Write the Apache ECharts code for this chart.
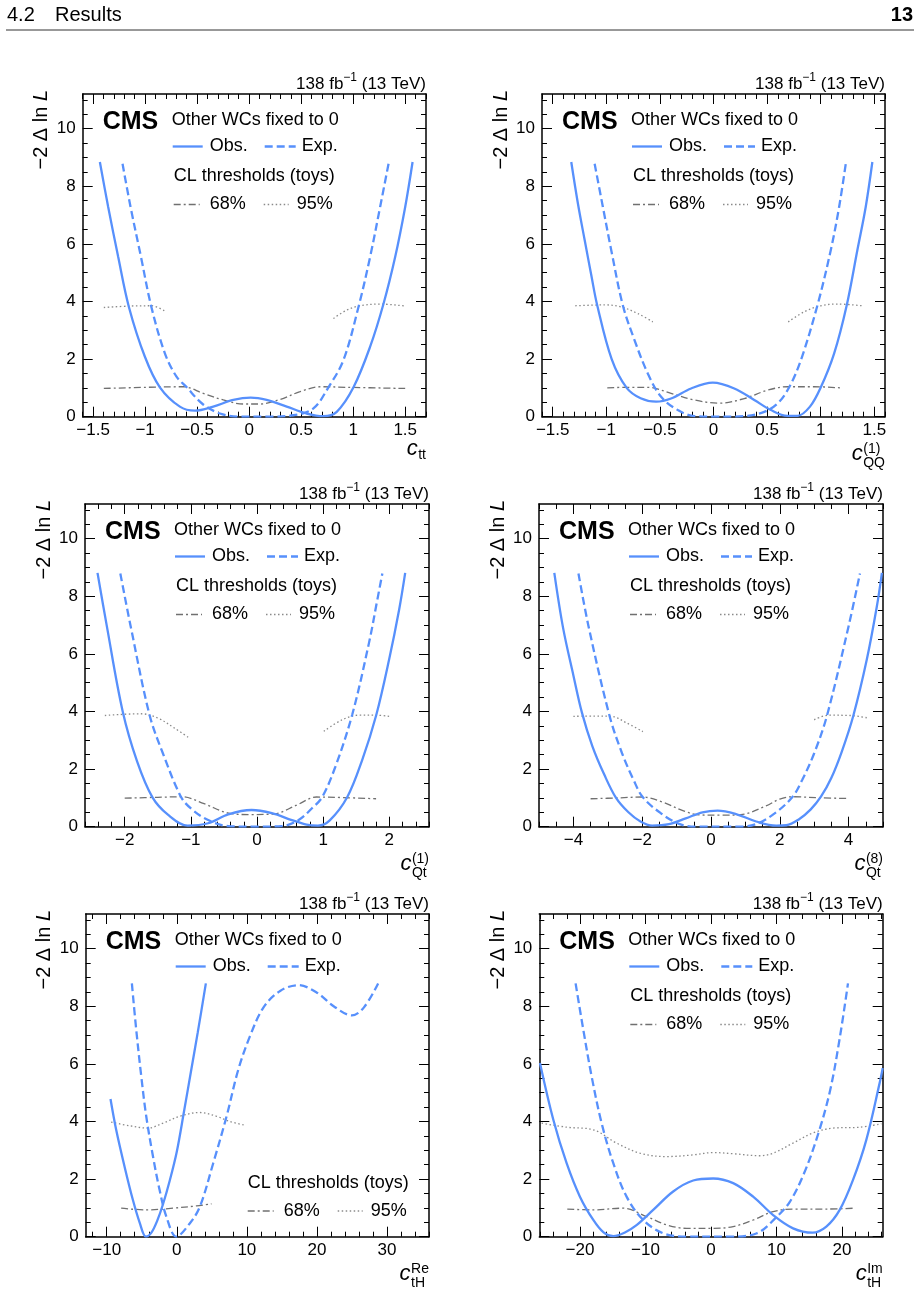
<!DOCTYPE html>
<html>
<head>
<meta charset="utf-8">
<title>-2 Δ ln L scans</title>
<script src="https://cdn.jsdelivr.net/npm/echarts@6/dist/echarts.min.js"></script>
<style>
html, body { margin: 0; padding: 0; background: #fff; }
#main { width: 920px; height: 1293px; }
</style>
</head>
<body>
<div id="main"></div>
<script>
// values, [x, -2ΔlnL]
const cttObs = [[-1.435,8.84],[-1.355,7.28],[-1.259,5.55],[-1.156,3.81],[-1.002,2.08],[-0.858,1.02],[-0.666,0.35],[-0.521,0.21],[-0.345,0.35],[-0.152,0.58],[0.015,0.66],[0.168,0.58],[0.361,0.35],[0.554,0.11],[0.714,0.02],[0.842,0.17],[1.003,1.02],[1.163,2.43],[1.291,3.91],[1.404,5.55],[1.5,7.28],[1.571,8.84]];
const cttExp = [[-1.217,8.78],[-1.14,7.28],[-1.04,5.55],[-0.94,3.81],[-0.81,2.2],[-0.7,1.4],[-0.6,1.02],[-0.45,0.45],[-0.28,0.11],[-0.09,0.0],[0.169,0.0],[0.425,0.05],[0.618,0.29],[0.762,1.02],[0.906,1.96],[1.051,3.81],[1.163,5.55],[1.259,7.28],[1.34,8.78]];
const ctt68 = [[-1.397,0.98],[-0.986,1.02],[-0.633,1.04],[-0.441,0.81],[-0.248,0.58],[-0.056,0.44],[0.104,0.44],[0.297,0.6],[0.489,0.87],[0.682,1.04],[0.939,1.02],[1.5,0.98]];
const ctt95L = [[-1.397,3.79],[-1.147,3.84],[-0.938,3.85],[-0.8,3.64]];
const ctt95R = [[0.81,3.41],[0.939,3.7],[1.067,3.85],[1.26,3.91],[1.5,3.84]];

const cqqObs = [[-1.327,8.84],[-1.265,7.4],[-1.202,6.13],[-1.14,4.91],[-1.085,3.87],[-0.95,2.0],[-0.81,1.0],[-0.68,0.64],[-0.535,0.52],[-0.396,0.63],[-0.209,0.98],[-0.007,1.18],[0.194,0.98],[0.38,0.58],[0.536,0.23],[0.69,0.03],[0.784,0.03],[0.9,0.35],[1.001,1.02],[1.125,2.19],[1.243,3.87],[1.342,5.78],[1.42,7.28],[1.482,8.84]];
const cqqExp = [[-1.109,8.78],[-1.032,7.28],[-0.954,5.78],[-0.846,3.87],[-0.737,2.66],[-0.613,1.5],[-0.489,0.69],[-0.333,0.23],[-0.178,0.02],[0.039,0.0],[0.287,0.02],[0.473,0.17],[0.598,0.46],[0.706,1.02],[0.815,1.96],[0.97,3.87],[1.094,5.78],[1.172,7.28],[1.234,8.78]];
const cqq68 = [[-0.991,1.0],[-0.8,1.02],[-0.613,1.02],[-0.396,0.81],[-0.178,0.58],[0.054,0.47],[0.287,0.63],[0.504,0.92],[0.69,1.04],[0.939,1.04],[1.187,1.0]];
const cqq95L = [[-1.289,3.85],[-1.016,3.88],[-0.861,3.81],[-0.706,3.58],[-0.566,3.29]];
const cqq95R = [[0.697,3.29],[0.846,3.64],[1.001,3.85],[1.156,3.91],[1.389,3.85]];

const cqt1Obs = [[-2.411,8.81],[-2.27,6.96],[-2.03,4.0],[-1.81,2.25],[-1.58,1.02],[-1.347,0.42],[-1.05,0.04],[-0.739,0.12],[-0.435,0.43],[-0.081,0.58],[0.224,0.47],[0.527,0.23],[0.75,0.07],[0.92,0.04],[1.1,0.22],[1.363,1.02],[1.591,2.32],[1.804,3.885],[1.997,5.8],[2.149,7.54],[2.24,8.81]];
const cqt1Exp = [[-2.066,8.79],[-1.91,6.96],[-1.625,3.885],[-1.423,2.55],[-1.15,1.04],[-0.992,0.62],[-0.739,0.23],[-0.435,0.02],[-0.03,0.0],[0.375,0.02],[0.629,0.23],[0.831,0.64],[0.983,1.02],[1.186,2.09],[1.439,3.885],[1.693,6.38],[1.82,7.89],[1.895,8.79]];
const cqt168 = [[-2.0,0.99],[-1.5,1.02],[-1.14,1.04],[-0.8,0.8],[-0.43,0.47],[-0.1,0.42],[0.27,0.45],[0.6,0.75],[0.9,1.03],[1.3,1.01],[1.8,0.97]];
const cqt195L = [[-2.3,3.86],[-1.752,3.92],[-1.499,3.77],[-1.246,3.42],[-1.018,3.07]];
const cqt195R = [[1.009,3.31],[1.287,3.71],[1.541,3.87],[1.794,3.87],[1.997,3.83]];

const cqt8Obs = [[-4.555,8.81],[-4.3,6.9],[-4.0,5.25],[-3.75,3.95],[-3.45,2.8],[-3.1,1.8],[-2.76,1.0],[-2.4,0.5],[-2.05,0.18],[-1.709,0.04],[-1.222,0.09],[-0.734,0.29],[-0.247,0.5],[0.192,0.56],[0.728,0.44],[1.313,0.18],[1.898,0.036],[2.19,0.05],[2.55,0.25],[2.9,0.6],[3.2,1.05],[3.5,1.7],[3.8,2.6],[4.139,3.86],[4.529,5.8],[4.822,7.65],[4.968,8.81]];
const cqt8Exp = [[-3.853,8.79],[-3.561,6.96],[-2.95,3.85],[-2.586,2.55],[-2.25,1.62],[-1.98,1.02],[-1.45,0.46],[-0.93,0.1],[-0.45,0.0],[0.85,0.0],[1.33,0.1],[1.85,0.46],[2.36,1.02],[2.65,1.62],[3.0,2.55],[3.37,3.85],[4.0,6.96],[4.33,8.79]];
const cqt868 = [[-3.5,0.97],[-2.7,1.0],[-2.0,1.03],[-1.4,0.85],[-0.8,0.55],[-0.34,0.41],[0.3,0.4],[0.87,0.42],[1.6,0.72],[2.0,0.96],[2.4,1.04],[3.2,1.0],[4.0,0.98]];
const cqt895L = [[-4.0,3.83],[-3.4,3.84],[-2.9,3.83],[-2.45,3.6],[-1.98,3.3]];
const cqt895R = [[3.0,3.71],[3.41,3.87],[4.04,3.86],[4.58,3.77]];

const cthReObs = [[-9.46,4.78],[-8.65,3.71],[-7.46,2.44],[-6.27,1.28],[-5.31,0.5],[-4.4,0.0],[-3.6,0.15],[-2.8,0.55],[-2.0,1.1],[-1.0,1.95],[0.0,2.95],[1.0,4.3],[2.0,5.7],[3.0,7.1],[4.15,8.79]];
const cthReExp = [[-6.41,8.79],[-5.79,7.19],[-5.07,5.57],[-4.36,4.18],[-3.4,2.79],[-2.45,1.62],[-1.49,0.7],[-0.06,0.0],[1.85,0.46],[3.29,1.04],[5.2,2.55],[7.11,4.18],[8.78,5.8],[10.45,6.96],[12.36,7.95],[14.75,8.53],[17.37,8.73],[20.0,8.47],[22.39,8.0],[25.0,7.68],[26.69,7.95],[28.74,8.79]];
const cthRe68 = [[-7.94,0.99],[-4.36,0.93],[-0.54,0.99],[2.81,1.07],[4.96,1.14]];
const cthRe95 = [[-9.37,3.98],[-6.74,3.85],[-4.12,3.77],[-1.97,3.94],[0.42,4.18],[3.29,4.31],[5.67,4.18],[7.58,4.0],[9.73,3.87]];

const cthImObs = [[-26.1,6.03],[-24.06,4.06],[-22.03,2.55],[-20.0,1.39],[-17.96,0.58],[-16.4,0.15],[-14.9,0.02],[-13.2,0.14],[-11.36,0.4],[-8.82,0.93],[-5.77,1.57],[-2.72,1.95],[0.33,2.02],[3.38,1.86],[6.43,1.39],[9.48,0.75],[12.52,0.29],[15.5,0.14],[17.6,0.35],[19.64,0.93],[21.67,1.97],[23.7,3.36],[25.73,5.33],[26.2,5.85]];
const cthImExp = [[-20.66,8.79],[-19.49,7.19],[-18.22,5.57],[-16.69,3.94],[-14.91,2.55],[-12.88,1.39],[-10.34,0.58],[-7.29,0.12],[-3.74,0.0],[2.87,0.0],[7.0,0.12],[9.9,0.66],[12.0,1.2],[14.2,2.2],[16.4,3.6],[18.2,5.1],[19.65,6.9],[20.9,8.79]];
const cthIm68 = [[-21.93,0.96],[-17.96,0.93],[-13.39,0.99],[-9.83,0.7],[-6.78,0.41],[-3.74,0.29],[0.33,0.29],[3.38,0.35],[6.43,0.58],[9.48,0.87],[12.52,0.96],[17.6,0.96],[21.93,0.99]];
const cthIm95 = [[-25.84,3.94],[-22.03,3.8],[-17.96,3.71],[-14.41,3.25],[-10.85,2.9],[-6.78,2.78],[-2.72,2.84],[0.33,2.92],[3.38,2.88],[7.44,2.81],[9.48,2.9],[12.52,3.25],[15.57,3.6],[18.62,3.77],[22.68,3.8],[25.99,3.92]];

// tick labels
const xTicksCtt = [-1.5, -1, -0.5, 0, 0.5, 1, 1.5];
const xTicksCqq = [-1.5, -1, -0.5, 0, 0.5, 1, 1.5];
const xTicksCqt1 = [-2, -1, 0, 1, 2];
const xTicksCqt8 = [-4, -2, 0, 2, 4];
const xTicksRe = [-10, 0, 10, 20, 30];
const xTicksIm = [-20, -10, 0, 10, 20];
const yTicks = [0, 2, 4, 6, 8, 10];
const yMax = 11.2;

const FONT = '"Liberation Sans", Arial, Helvetica, sans-serif';
const BLUE = '#5790fc';
const G68 = '#707070';
const G95 = '#8a8a8a';

const panels = [
  { obs: cttObs, exp: cttExp, c68: [ctt68], c95: [ctt95L, ctt95R], xr: [-1.6, 1.7], ticks: xTicksCtt, minor: 0.1, sub: 'tt', sup: null },
  { obs: cqqObs, exp: cqqExp, c68: [cqq68], c95: [cqq95L, cqq95R], xr: [-1.6, 1.6], ticks: xTicksCqq, minor: 0.1, sub: 'QQ', sup: '(1)' },
  { obs: cqt1Obs, exp: cqt1Exp, c68: [cqt168], c95: [cqt195L, cqt195R], xr: [-2.6, 2.6], ticks: xTicksCqt1, minor: 0.2, sub: 'Qt', sup: '(1)' },
  { obs: cqt8Obs, exp: cqt8Exp, c68: [cqt868], c95: [cqt895L, cqt895R], xr: [-5, 5], ticks: xTicksCqt8, minor: 0.5, sub: 'Qt', sup: '(8)' },
  { obs: cthReObs, exp: cthReExp, c68: [cthRe68], c95: [cthRe95], xr: [-13, 36], ticks: xTicksRe, minor: 2, sub: 'tH', sup: 'Re' },
  { obs: cthImObs, exp: cthImExp, c68: [cthIm68], c95: [cthIm95], xr: [-26.2, 26.2], ticks: xTicksIm, minor: 2, sub: 'tH', sup: 'Im' }
];

// frame boxes [left, top, right, bottom] and offset of the CL-threshold block
const boxes = [
  [82.7, 94, 426, 416.7],
  [542, 94, 885, 416.7],
  [85, 504, 429, 826.7],
  [539, 504, 883, 826.7],
  [85.7, 914, 429, 1236.7],
  [539.3, 914, 882.7, 1236.7]
];
const clShift = [[0, 0], [0, 0], [0, 0], [0, 0], [71, 186.5], [0, 0]];

const measure = (function () {
  const c = document.createElement('canvas').getContext('2d');
  return function (s, size, pre) {
    c.font = (pre || '') + ' ' + size + 'px ' + FONT;
    return c.measureText(s).width;
  };
})();

function fmt(v) {
  return String(v).replace('-', '\u2212');
}

function minorTicks(min, max, step, majors) {
  const out = [];
  for (let k = Math.ceil(min / step - 1e-6); k * step <= max + 1e-9; k++) {
    const v = Math.round(k * step * 1e6) / 1e6;
    if (!majors.some(m => Math.abs(m - v) < step / 10)) out.push(v);
  }
  return out;
}

function axes(i, min, max, major, minor, pos, mirror, isY) {
  const common = { gridIndex: i, type: 'value', min: min, max: max, splitLine: { show: false }, axisPointer: { show: false } };
  const line = show => ({ show: show, onZero: false, lineStyle: { color: '#000', width: 1.5 } });
  const tick = (vals, len) => ({ show: true, inside: true, length: len, customValues: vals, lineStyle: { color: '#000', width: 1 } });
  const label = { show: true, customValues: major, formatter: fmt, color: '#000', fontSize: 17, fontFamily: FONT, margin: isY ? 7 : 5 };
  return [
    Object.assign({}, common, { position: pos, axisLine: line(true), axisTick: tick(major, 10), axisLabel: label }),
    Object.assign({}, common, { position: pos, axisLine: line(false), axisTick: tick(minor, 5), axisLabel: { show: false } }),
    Object.assign({}, common, { position: mirror, axisLine: line(true), axisTick: tick(major, 10), axisLabel: { show: false } }),
    Object.assign({}, common, { position: mirror, axisLine: line(false), axisTick: tick(minor, 5), axisLabel: { show: false } })
  ];
}

function line(name, data, i, color, width, type, z) {
  return {
    name: name, type: 'line', xAxisIndex: 4 * i, yAxisIndex: 4 * i, data: data,
    smooth: 0.35, symbol: 'none', showSymbol: false, clip: true, silent: true, z: z,
    lineStyle: { color: color, width: width, type: type }
  };
}

function txt(x, y, s, size, opt) {
  opt = opt || {};
  const style = {
    text: s, fill: '#000', fontSize: size, fontFamily: FONT,
    fontWeight: opt.weight || 'normal', fontStyle: opt.style || 'normal',
    align: opt.align || 'left', verticalAlign: 'middle'
  };
  if (opt.rich) style.rich = opt.rich;
  return { type: 'text', x: x, y: y, rotation: opt.rotation || 0, silent: true, style: style };
}

function seg(x1, x2, y, color, width, dash) {
  return { type: 'line', silent: true, shape: { x1: x1, y1: y, x2: x2, y2: y }, style: { stroke: color, lineWidth: width, lineDash: dash || null } };
}

const grid = [], xAxis = [], yAxis = [], series = [], graphic = [];

// page header
graphic.push(txt(7, 15.5, '4.2', 20));
graphic.push(txt(55, 15.5, 'Results', 20));
graphic.push(txt(913, 15.5, '13', 20, { weight: 'bold', align: 'right' }));
graphic.push({ type: 'line', silent: true, shape: { x1: 6, y1: 30, x2: 914, y2: 30 }, style: { stroke: '#333', lineWidth: 1 } });

panels.forEach(function (p, i) {
  const b = boxes[i];
  const L = b[0], T = b[1], R = b[2], B = b[3];
  grid.push({ left: L, top: T, width: R - L, height: B - T, containLabel: false, outerBoundsMode: 'none' });
  xAxis.push.apply(xAxis, axes(i, p.xr[0], p.xr[1], p.ticks, minorTicks(p.xr[0], p.xr[1], p.minor, p.ticks), 'bottom', 'top', false));
  yAxis.push.apply(yAxis, axes(i, 0, yMax, yTicks, minorTicks(0, yMax, 0.5, yTicks), 'left', 'right', true));

  p.c68.forEach(d => series.push(line('68%', d, i, G68, 1.3, [7, 3, 2, 3], 2)));
  p.c95.forEach(d => series.push(line('95%', d, i, G95, 1.3, [1.5, 2.5], 2)));
  series.push(line('Exp.', p.exp, i, BLUE, 2.3, [8, 4], 3));
  series.push(line('Obs.', p.obs, i, BLUE, 2.3, 'solid', 4));

  // luminosity label
  const w3 = measure(' (13 TeV)', 17), w2 = measure('\u22121', 12), w1 = measure('138 fb', 17);
  graphic.push(txt(R - w3, T - 10, ' (13 TeV)', 17));
  graphic.push(txt(R - w3 - w2, T - 16, '\u22121', 12));
  graphic.push(txt(R - w3 - w2 - w1, T - 10, '138 fb', 17));

  // y title
  graphic.push(txt(L - 41, T - 4, '{t|\u22122 \u0394 ln }{i|L}', 20, {
    align: 'right', rotation: Math.PI / 2,
    rich: {
      t: { fontSize: 20, fontFamily: FONT, fill: '#000' },
      i: { fontSize: 20, fontFamily: FONT, fontStyle: 'italic', fill: '#000' }
    }
  }));

  // x title
  const base = p.sup ? B + 45 : B + 39.5;
  const sw = Math.max(measure(p.sub, 14), p.sup ? measure(p.sup, 14) : 0);
  const xs = R - sw;
  graphic.push(txt(xs - 0.5, base - 7.7, 'c', 22, { style: 'italic', align: 'right' }));
  graphic.push(txt(xs, base + (p.sup ? 6 : 4) - 4.9, p.sub, 14));
  if (p.sup) graphic.push(txt(xs, base - 8 - 4.9, p.sup, 14));

  // CMS label and legend
  graphic.push(txt(L + 20, T + 28.5, 'CMS', 25, { weight: 'bold' }));
  graphic.push(txt(L + 89, T + 26, 'Other WCs fixed to 0', 18));
  graphic.push(seg(L + 90, L + 120, T + 52.5, BLUE, 2.3));
  graphic.push(txt(L + 127, T + 52.5, 'Obs.', 18));
  graphic.push(seg(L + 182, L + 213, T + 52.5, BLUE, 2.3, [8, 4]));
  graphic.push(txt(L + 219, T + 52.5, 'Exp.', 18));
  const dx = clShift[i][0], dy = clShift[i][1];
  graphic.push(txt(L + 91 + dx, T + 82.5 + dy, 'CL thresholds (toys)', 18));
  graphic.push(seg(L + 91 + dx, L + 117 + dx, T + 110.5 + dy, G68, 1.3, [7, 3, 2, 3]));
  graphic.push(txt(L + 127 + dx, T + 110.5 + dy, '68%', 18));
  graphic.push(seg(L + 181 + dx, L + 206 + dx, T + 110.5 + dy, G95, 1.3, [1.5, 2.5]));
  graphic.push(txt(L + 214 + dx, T + 110.5 + dy, '95%', 18));
});

const chart = echarts.init(document.getElementById('main'), null, { renderer: 'canvas' });
chart.setOption({
  animation: false,
  backgroundColor: '#fff',
  grid: grid,
  xAxis: xAxis,
  yAxis: yAxis,
  series: series,
  graphic: graphic
});
</script>
</body>
</html>
